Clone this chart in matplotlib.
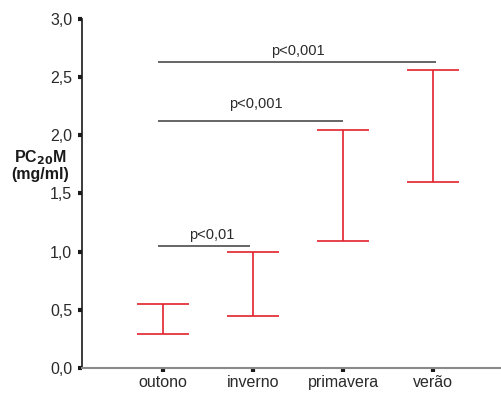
import numpy as np
import matplotlib.pyplot as plt

plt.rcParams['font.family'] = ['Liberation Sans', 'DejaVu Sans']

seasons = ['outono', 'inverno', 'primavera', 'verão']
low = [0.29, 0.45, 1.09, 1.60]
high = [0.55, 1.00, 2.05, 2.56]

# significance brackets between seasons
sig_start = [0.94, 0.94, 0.94]
sig_end = [1.96, 3.0, 4.03]
sig_y = [1.045, 2.12, 2.63]
sig_text = ['p<0,01', 'p<0,001', 'p<0,001']
sig_text_x = [1.54, 2.03, 2.49]
sig_text_y = [1.144, 2.27, 2.728]

x = np.arange(1, len(seasons) + 1)
low = np.array(low)
high = np.array(high)

fig = plt.figure(figsize=(5.01, 3.94), dpi=100)
ax = fig.add_axes([0.1637, 0.066, 0.8363, 0.8858])

ax.errorbar(x, low, yerr=[np.zeros_like(low), high - low], fmt='none',
            ecolor='#e2232b', elinewidth=1.2, capsize=18.7, capthick=1.2)

for s, e, y in zip(sig_start, sig_end, sig_y):
    ax.plot([s, e], [y, y], color='#3c3c3c', lw=1.1, solid_capstyle='butt')
for tx, ty, t in zip(sig_text_x, sig_text_y, sig_text):
    ax.text(tx, ty, t, ha='center', va='center', fontsize=10.5, color='#2a2a2a')

ax.set_xlim(0.1, 4.75)
ax.set_ylim(0, 3.0)
ax.set_xticks(x)
ax.set_xticklabels(seasons)
yt = np.arange(0, 3.01, 0.5)
ax.set_yticks(yt)
ax.set_yticklabels([f'{v:.1f}'.replace('.', ',') for v in yt])

for side in ['top', 'right']:
    ax.spines[side].set_visible(False)
ax.spines['left'].set_color('#1a1a1a')
ax.spines['left'].set_linewidth(1.2)
ax.spines['bottom'].set_color('#8a8a8a')
ax.spines['bottom'].set_linewidth(1.5)
ax.tick_params(axis='both', direction='out', length=3, width=3, color='#1a1a1a',
               labelsize=11.5, labelcolor='#2a2a2a')
ax.tick_params(axis='y', pad=4)
ax.tick_params(axis='x', pad=2)

fig.text(0.08, 0.581, 'PC$_{\\mathbf{20}}$M\n(mg/ml)', ha='center', va='center',
         fontsize=11.5, fontweight='bold', color='#1a1a1a', linespacing=1.0)

fig.savefig('out.png', dpi=100)
